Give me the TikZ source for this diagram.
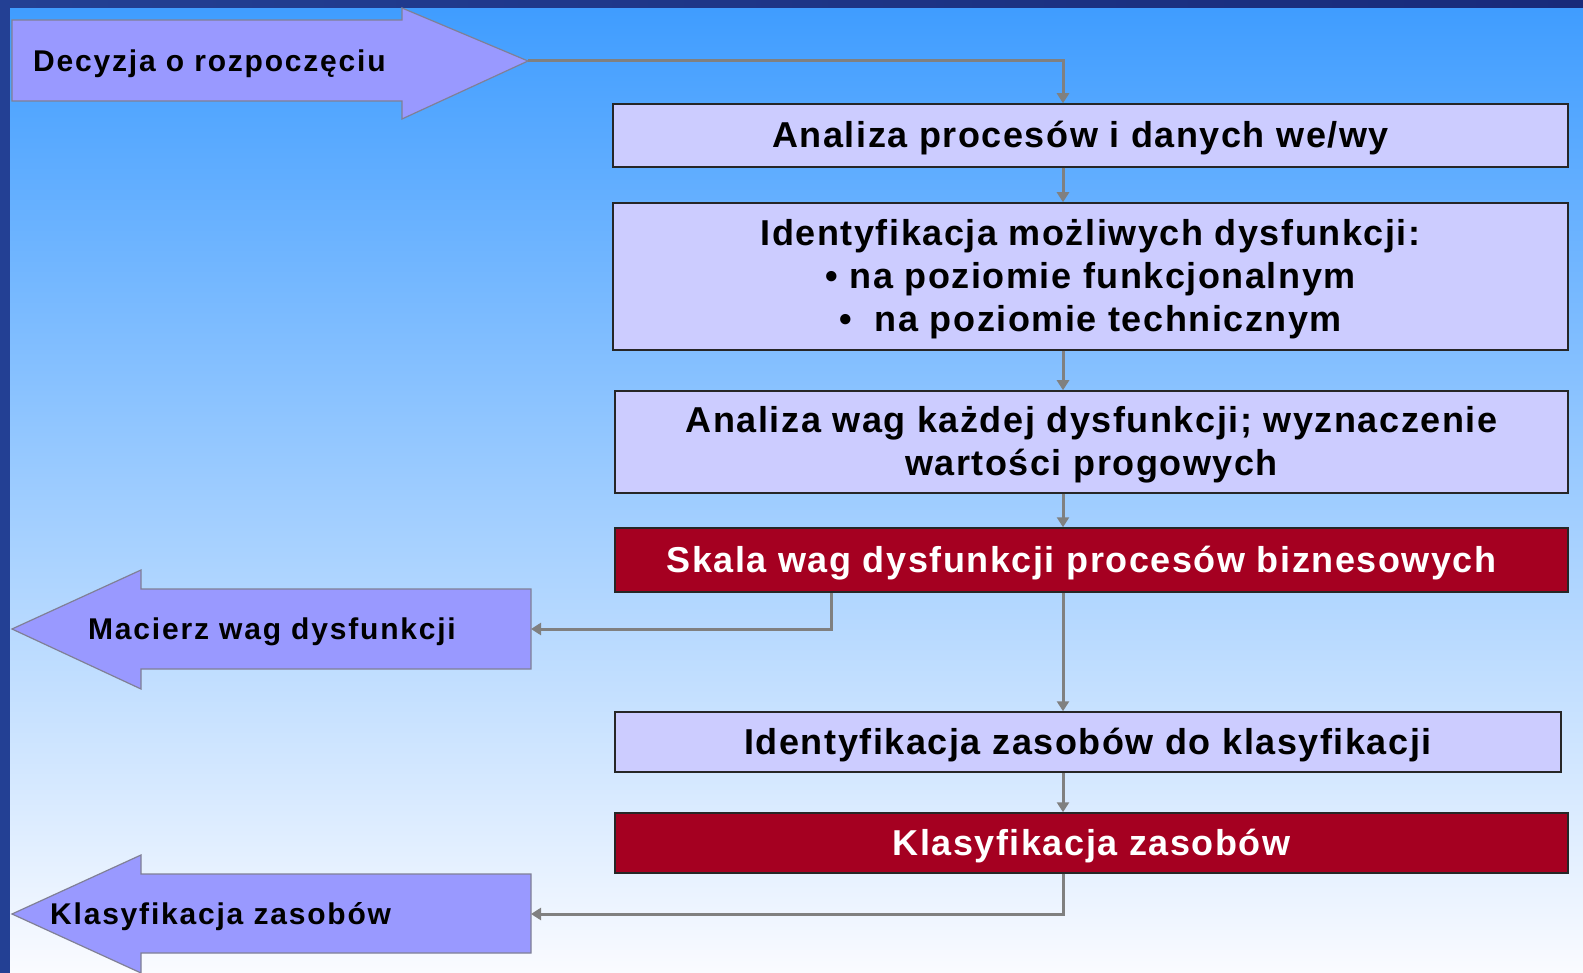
\documentclass[tikz,border=0pt]{standalone}
\usepackage{fontspec}
\usetikzlibrary{arrows.meta}
\newfontfamily\diagfont{Liberation Sans}[LetterSpace=4.3]
\newfontfamily\arrowfont{Liberation Sans}[LetterSpace=6]
\definecolor{frameblue}{RGB}{35,64,148}
\definecolor{framedark}{RGB}{24,42,122}
\definecolor{bgtop}{RGB}{62,156,255}
\definecolor{bgmid}{RGB}{172,208,255}
\definecolor{bgbot}{RGB}{250,251,255}
\definecolor{boxfill}{RGB}{204,204,255}
\definecolor{arrowfill}{RGB}{153,153,255}
\definecolor{arrowline}{RGB}{128,128,150}
\definecolor{redbox}{RGB}{165,0,33}
\definecolor{connc}{RGB}{128,128,128}
\tikzset{
  stepbox/.style={draw=black!85, line width=1.5pt, fill=boxfill, inner sep=0pt},
  keybox/.style={stepbox, fill=redbox},
  boxtext/.style={inner sep=0pt, yshift=-3pt, align=center, text=black,
    font=\diagfont\bfseries\fontsize{36}{43}\selectfont},
  keytext/.style={boxtext, text=white},
  bigarrow/.style={fill=arrowfill, draw=arrowline, line width=1.2pt},
  arrowtext/.style={font=\arrowfont\bfseries\fontsize{30}{34}\selectfont, text=black, inner sep=0pt},
  conn/.style={draw=connc, line width=3pt, -{Triangle[width=12pt,length=10pt]}}
}
\begin{document}
\begin{tikzpicture}[x=1pt,y=-1pt]
\useasboundingbox (0,0) rectangle (1583,973);
% background
\fill[top color=bgtop, middle color=bgmid, bottom color=bgbot] (0,0) rectangle (1583,973);
\fill[frameblue] (0,0) rectangle (10,973);
\fill[left color=frameblue, right color=framedark] (0,0) rectangle (1583,8);
% big arrows
\path[bigarrow] (12,20) -- (402,20) -- (402,8) -- (528,61) -- (402,119) -- (402,101) -- (12,101) -- cycle;
\coordinate (a1tip) at (528,61);
\node[arrowtext, anchor=west] (a1text) at (33,64) {Decyzja o rozpoczęciu};
\path[bigarrow] (531,589) -- (141,589) -- (141,570) -- (12,629) -- (141,689) -- (141,669) -- (531,669) -- cycle;
\coordinate (a2end) at (531,629);
\node[arrowtext, anchor=west] (a2text) at (88,632) {Macierz wag dysfunkcji};
\path[bigarrow] (531,874) -- (141,874) -- (141,855) -- (12,914) -- (141,973) -- (141,953) -- (531,953) -- cycle;
\coordinate (a3end) at (531,914);
\node[arrowtext, anchor=west] (a3text) at (50,917) {Klasyfikacja zasobów};
% boxes
\node[stepbox, minimum width=955pt, minimum height=63pt,
  label={[boxtext, xshift=-10pt, name=b1t]center:{Analiza procesów i danych we/wy}}] (b1) at (1090.5,135.5) {};
\node[stepbox, minimum width=955pt, minimum height=147pt,
  label={[boxtext, name=b2t]center:{Identyfikacja możliwych dysfunkcji:\\ • na poziomie funkcjonalnym\\ •\ \ na poziomie technicznym}}] (b2) at (1090.5,276.5) {};
\node[stepbox, minimum width=953pt, minimum height=102pt,
  label={[boxtext, name=b3t]center:{Analiza wag każdej dysfunkcji; wyznaczenie\\ wartości progowych}}] (b3) at (1091.5,442) {};
\node[keybox, minimum width=953pt, minimum height=64pt,
  label={[keytext, xshift=-10pt, name=b4t]center:{Skala wag dysfunkcji procesów biznesowych}}] (b4) at (1091.5,560) {};
\node[stepbox, minimum width=946pt, minimum height=60pt,
  label={[boxtext, name=b5t]center:{Identyfikacja zasobów do klasyfikacji}}] (b5) at (1088,742) {};
\node[keybox, minimum width=953pt, minimum height=60pt,
  label={[keytext, name=b6t]center:{Klasyfikacja zasobów}}] (b6) at (1091.5,843) {};
% connectors
\coordinate (cx) at (1063,0);
\coordinate (lx) at (831,0);
\draw[conn] (a1tip) -| (b1.north -| cx);
\draw[conn] (b1.south -| cx) -- (b2.north -| cx);
\draw[conn] (b2.south -| cx) -- (b3.north -| cx);
\draw[conn] (b3.south -| cx) -- (b4.north -| cx);
\draw[conn] (b4.south -| lx) |- (a2end);
\draw[conn] (b4.south -| cx) -- (b5.north -| cx);
\draw[conn] (b5.south -| cx) -- (b6.north -| cx);
\draw[conn] (b6.south -| cx) |- (a3end);
\end{tikzpicture}
\end{document}
